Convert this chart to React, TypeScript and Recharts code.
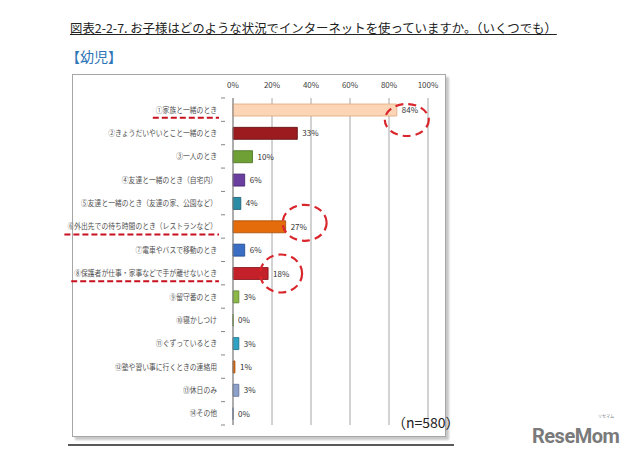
import React from 'react';
import { BarChart, Bar, XAxis, YAxis, CartesianGrid, Cell, LabelList } from 'recharts';

const categories = [
  '①家族と一緒のとき',
  '②きょうだいやいとこと一緒のとき',
  '③一人のとき',
  '④友達と一緒のとき（自宅内）',
  '⑤友達と一緒のとき（友達の家、公園など）',
  '⑥外出先での待ち時間のとき（レストランなど）',
  '⑦電車やバスで移動のとき',
  '⑧保護者が仕事・家事などで手が離せないとき',
  '⑨留守番のとき',
  '⑩寝かしつけ',
  '⑪ぐずっているとき',
  '⑫塾や習い事に行くときの連絡用',
  '⑬休日のみ',
  '⑭その他',
];
const values = [84, 33, 10, 6, 4, 27, 6, 18, 3, 0, 3, 1, 3, 0];
const xTicks = [0, 10, 20, 30, 40, 50, 60, 70, 80, 90, 100];

const fills = ['#FBD5B5', '#9B1B1F', '#6FA035', '#6B3FA0', '#2B8CA6', '#E46C0A', '#3A6EC4', '#C4202A', '#8DB847', '#8DB847', '#2FA3C4', '#E46C0A', '#8DA0CA', '#8DA0CA'];
const strokes = ['#E0A878', '#5E0E10', '#44701C', '#3E2268', '#17586A', '#A44A04', '#20478A', '#7E1017', '#5C8228', '#5C8228', '#1A6E88', '#A44A04', '#5C6E98', '#5C6E98'];

// hand-drawn red annotations (index -> circle offset / radius)
const circled: Record<number, { dx: number; dy: number; rx: number; ry: number }> = {
  0: { dx: -2, dy: 10, rx: 22, ry: 16 },
  5: { dx: 7, dy: -4, rx: 22, ry: 18 },
  7: { dx: 1, dy: 0, rx: 21, ry: 19 },
};
const underlined = [0, 5, 7];

const data = categories.map((name, i) => ({ name, value: values[i] }));

const PLOT_TOP = 98;
const PLOT_BOTTOM = 425;
const BAND = (PLOT_BOTTOM - PLOT_TOP) / categories.length;
const CHAR_W = 6.8;

const CategoryTick = (props: any) => {
  const { x, y, payload, index } = props;
  const text: string = payload.value;
  const endX = x - 8;
  const w = text.length * CHAR_W;
  return (
    <g>
      <line x1={x - 4} x2={x} y1={y - BAND / 2} y2={y - BAND / 2} stroke="#868686" strokeWidth={1} />
      {index === categories.length - 1 && (
        <line x1={x - 4} x2={x} y1={y + BAND / 2} y2={y + BAND / 2} stroke="#868686" strokeWidth={1} />
      )}
      <text x={endX} y={y} dy={3} textAnchor="end" fontSize={8} fill="#505050" textLength={w} lengthAdjust="spacingAndGlyphs">
        {text}
      </text>
      {underlined.includes(index) && (
        <line x1={endX - w - 3} x2={endX + 2} y1={y + 8} y2={y + 8} stroke="#C8101E" strokeWidth={2} strokeDasharray="6 3" />
      )}
    </g>
  );
};

const ValueLabel = (props: any) => {
  const { x, y, width, height, value, index } = props;
  const lx = x + Math.max(width, 0) + 5;
  const cy = y + height / 2;
  const c = circled[index];
  return (
    <g>
      <text x={lx} y={cy} dy={3} fontSize={8} fill="#333">
        {`${value}%`}
      </text>
      {c && (
        <ellipse cx={lx + 7 + c.dx} cy={cy + c.dy} rx={c.rx} ry={c.ry} fill="none" stroke="#D9262C" strokeWidth={2.2} strokeDasharray="8 5" />
      )}
    </g>
  );
};

export default function App() {
  return (
    <div style={{ position: 'absolute', left: 0, top: 0, width: 640, height: 458, background: '#fff', fontFamily: '"Noto Sans CJK JP", sans-serif' }}>
      <div style={{ position: 'absolute', left: 70, top: 19, fontSize: 12.4, color: '#222', textDecoration: 'underline', whiteSpace: 'nowrap' }}>
        図表2-2-7. お子様はどのような状況でインターネットを使っていますか。（いくつでも）
      </div>
      <div style={{ position: 'absolute', left: 66, top: 46, fontSize: 14, color: '#2E75B6', whiteSpace: 'nowrap' }}>【幼児】</div>
      <div style={{ position: 'absolute', left: 72, top: 74, width: 372, height: 361, border: '1px solid #a6a6a6', boxShadow: '3px 3px 2px #c8c8c8' }} />
      <div style={{ position: 'absolute', left: 68, top: 444, width: 386, height: 2, background: '#595959' }} />
      <div style={{ position: 'absolute', left: 0, top: 0 }}>
        <BarChart width={640} height={458} data={data} layout="vertical" margin={{ top: 78, right: 212, bottom: 33, left: 10 }}>
          <CartesianGrid horizontal={false} stroke="#A6A6A6" />
          <XAxis
            type="number"
            orientation="top"
            domain={[0, 100]}
            ticks={xTicks}
            tickFormatter={(v: number) => `${v}%`}
            axisLine={false}
            tickLine={false}
            height={20}
            tickMargin={4}
            tick={{ fontSize: 8, fill: '#404040' }}
          />
          <YAxis
            type="category"
            dataKey="name"
            width={223}
            interval={0}
            axisLine={{ stroke: '#868686' }}
            tickLine={false}
            tick={<CategoryTick />}
          />
          <Bar dataKey="value" barSize={12} minPointSize={0.01} isAnimationActive={false}>
            {data.map((_, i) => (
              <Cell key={i} fill={fills[i]} stroke={strokes[i]} strokeWidth={0.8} />
            ))}
            <LabelList dataKey="value" content={<ValueLabel />} />
          </Bar>
        </BarChart>
      </div>
      <div style={{ position: 'absolute', left: 392, top: 412, fontSize: 14, color: '#222' }}>（n=580）</div>
      <div style={{ position: 'absolute', left: 532, top: 424, fontSize: 20, fontWeight: 'bold', color: '#7a7a7a', fontFamily: 'Roboto, sans-serif', letterSpacing: -0.5 }}>
        ReseMom
      </div>
      <div style={{ position: 'absolute', left: 598, top: 414, fontSize: 4, lineHeight: '5px', color: '#7a7a7a' }}>リセマム</div>
    </div>
  );
}
